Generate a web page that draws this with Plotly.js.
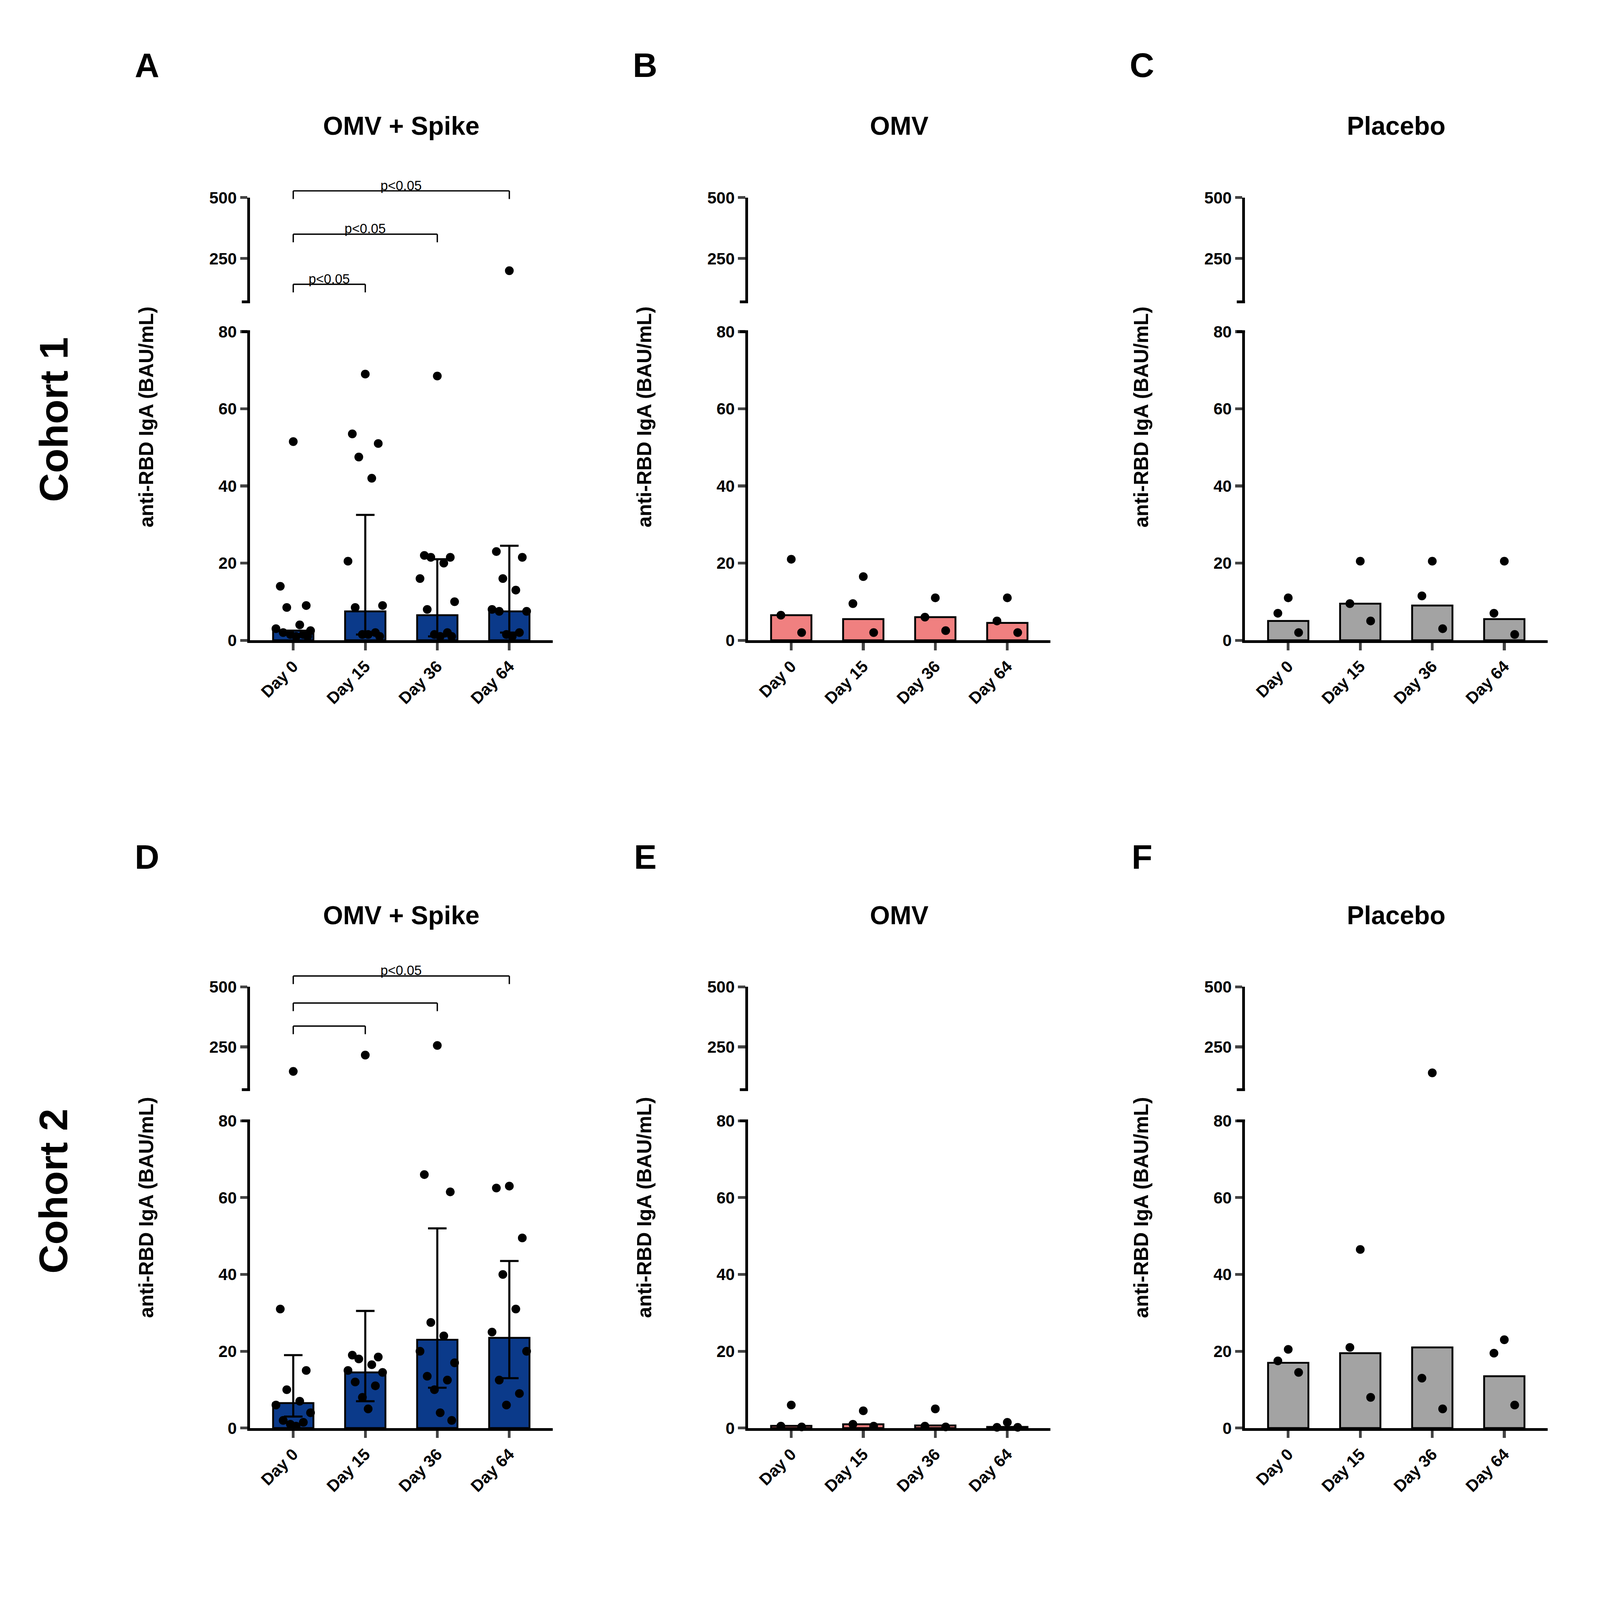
<!DOCTYPE html>
<html>
<head>
<meta charset="utf-8">
<script src="https://cdn.plot.ly/plotly-3.0.1.min.js"></script>
<style>html,body{margin:0;padding:0;background:#fff;overflow:hidden}</style>
</head>
<body>
<div id="plot"></div>
<script>
// categories and values
const days = ['Day 0', 'Day 15', 'Day 36', 'Day 64'];
const panelLetters = ['A', 'B', 'C', 'D', 'E', 'F'];
const panelTitles = ['OMV + Spike', 'OMV', 'Placebo', 'OMV + Spike', 'OMV', 'Placebo'];
const cohortLabels = ['Cohort 1', 'Cohort 2'];

const barsA = [2.5, 7.5, 6.5, 7.5];
const errUpA = [0, 25, 14.5, 17];
const errLoA = [0, 6, 5.5, 5.5];
const ptsA = [
  [51.5, 14, 9, 8.5, 4, 3, 2.5, 2, 1.5, 1.5, 1, 1],
  [69, 53.5, 51, 47.5, 42, 20.5, 9, 8.5, 2, 1.5, 1.5, 1],
  [68.5, 22, 21.5, 21.5, 20, 16, 10, 8, 2, 1.5, 1, 1],
  [200, 23, 21.5, 16, 13, 8, 7.5, 7.5, 2, 1.5, 1]
];
const barsB = [6.5, 5.5, 6, 4.5];
const ptsB = [[21, 6.5, 2], [16.5, 9.5, 2], [11, 6, 2.5], [11, 5, 2]];
const barsC = [5, 9.5, 9, 5.5];
const ptsC = [[11, 7, 2], [20.5, 9.5, 5], [20.5, 11.5, 3], [20.5, 7, 1.5]];

const barsD = [6.5, 14.5, 23, 23.5];
const errUpD = [12.5, 16, 29, 20];
const errLoD = [3.5, 7.5, 12.5, 10.5];
const ptsD = [
  [148, 31, 15, 10, 7, 6, 4, 2, 1.5, 1, 0.5],
  [216, 19, 18.5, 18, 16.5, 15, 14.5, 12, 11, 8, 5],
  [256, 66, 61.5, 27.5, 24, 20, 17, 13.5, 12.5, 10, 4, 2],
  [63, 62.5, 49.5, 40, 31, 25, 20, 12.5, 9, 6]
];
const barsE = [0.6, 1, 0.7, 0.3];
const ptsE = [[6, 0.5, 0.3], [4.5, 1, 0.5], [5, 0.5, 0.3], [1.5, 0.2, 0.2]];
const barsF = [17, 19.5, 21, 13.5];
const ptsF = [[20.5, 17.5, 14.5], [46.5, 21, 8], [142, 13, 5], [23, 19.5, 6]];

// reference measured in a 1555x1182 view; everything scales from it
const W = 1555, H = 1182;
const PW = window.innerWidth, PH = window.innerHeight;
const k = PW / W;
const px = X => X / W, py = Y => 1 - Y / H;

const colors = ['#0b3a8a', '#f08080', '#a3a3a3'];
const panels = [
  {bars: barsA, pts: ptsA, up: errUpA, lo: errLoA, c: colors[0]},
  {bars: barsB, pts: ptsB, c: colors[1]},
  {bars: barsC, pts: ptsC, c: colors[2]},
  {bars: barsD, pts: ptsD, up: errUpD, lo: errLoD, c: colors[0]},
  {bars: barsE, pts: ptsE, c: colors[1]},
  {bars: barsF, pts: ptsF, c: colors[2]}
];
const colX = [[243, 537], [727, 1021], [1210, 1504]];
const rowY = [{lo: [473, 245], up: [223, 146]}, {lo: [1055, 828], up: [805, 729]}];
const jitter = [0, -0.18, 0.18, -0.09, 0.09, -0.24, 0.24, -0.14, 0.14, -0.04, 0.04, 0.2];

const F = 'Liberation Sans, Arial, sans-serif';
const lw = 2.7 * k;
const tickFont = {size: 16 * k, family: F, weight: 'bold', color: 'black'};
const layout = {
  width: PW, height: PH, showlegend: false,
  paper_bgcolor: 'white', plot_bgcolor: 'rgba(0,0,0,0)',
  margin: {l: 0, r: 0, t: 0, b: 0},
  font: {family: F, color: 'black'},
  annotations: [], shapes: []
};
const traces = [];

panels.forEach((p, i) => {
  const r = Math.floor(i / 3), c = i % 3;
  const xn = i + 1, yl = i + 1, yu = i + 7;
  const xa = 'x' + (xn === 1 ? '' : xn), ya = 'y' + (yl === 1 ? '' : yl), yb = 'y' + yu;
  const dom = [px(colX[c][0]), px(colX[c][1])];
  layout['xaxis' + (xn === 1 ? '' : xn)] = {
    domain: dom, range: [-0.6, 3.6], anchor: ya, tickvals: [0, 1, 2, 3], ticktext: days,
    tickangle: -45, showline: true, linewidth: lw, linecolor: 'black', ticks: 'outside',
    ticklen: 7 * k, tickwidth: lw, showgrid: false, zeroline: false, tickfont: tickFont
  };
  layout['yaxis' + (yl === 1 ? '' : yl)] = {
    domain: [py(rowY[r].lo[0]), py(rowY[r].lo[1])], range: [0, 80], anchor: xa,
    tickvals: [0, 20, 40, 60, 80], showline: true, linewidth: lw, linecolor: 'black',
    ticks: 'outside', ticklen: 7 * k, tickwidth: lw, showgrid: false, zeroline: false,
    tickfont: tickFont
  };
  layout['yaxis' + yu] = {
    domain: [py(rowY[r].up[0]), py(rowY[r].up[1])], range: [72, 500], anchor: xa,
    tickvals: [250, 500], showline: true, linewidth: lw, linecolor: 'black',
    ticks: 'outside', ticklen: 7 * k, tickwidth: lw, showgrid: false, zeroline: false,
    tickfont: tickFont
  };
  // axis break marks
  [rowY[r].lo[1], rowY[r].up[0]].forEach(Y => layout.shapes.push({
    type: 'line', xref: 'paper', yref: 'paper', x0: px(colX[c][0] - 8), x1: px(colX[c][0]),
    y0: py(Y), y1: py(Y), line: {color: 'black', width: lw}
  }));

  const bar = {type: 'bar', x: [0, 1, 2, 3], y: p.bars, xaxis: xa, yaxis: ya, width: 0.56,
    marker: {color: p.c, line: {color: 'black', width: 1.8 * k}}};
  if (p.up) bar.error_y = {type: 'data', symmetric: false, array: p.up, arrayminus: p.lo,
    color: 'black', thickness: 2 * k, width: 9 * k};
  traces.push(bar);

  const lx = [], lyv = [], ux = [], uyv = [];
  p.pts.forEach((vals, kk) => vals.forEach((v, j) => {
    const x = kk + jitter[j % jitter.length] * (vals.length <= 3 ? 0.8 : 1);
    if (v > 80) { ux.push(x); uyv.push(v); } else { lx.push(x); lyv.push(v); }
  }));
  const mk = {color: 'black', size: 8.5 * k};
  traces.push({type: 'scatter', mode: 'markers', x: lx, y: lyv, xaxis: xa, yaxis: ya, marker: mk, cliponaxis: false});
  traces.push({type: 'scatter', mode: 'markers', x: ux, y: uyv, xaxis: xa, yaxis: yb, marker: mk, cliponaxis: false});

  const mid = (colX[c][0] + colX[c][1]) / 2;
  layout.annotations.push({text: panelTitles[i], xref: 'paper', yref: 'paper', x: px(mid), y: py(r === 0 ? 93 : 676),
    xanchor: 'center', yanchor: 'middle', showarrow: false, font: {size: 25 * k, family: F, weight: 'bold'}});
  layout.annotations.push({text: panelLetters[i], xref: 'paper', yref: 'paper',
    x: px(colX[c][0] - 100), y: py(r === 0 ? 48 : 633), xanchor: 'center', yanchor: 'middle',
    showarrow: false, font: {size: 33 * k, family: F, weight: 'bold'}});
  layout.annotations.push({text: 'anti-RBD IgA (BAU/mL)', xref: 'paper', yref: 'paper', textangle: -90,
    x: px(colX[c][0] - 101), y: py(r === 0 ? 308 : 892), xanchor: 'center', yanchor: 'middle',
    showarrow: false, font: {size: 19.5 * k, family: F, weight: 'bold'}});
});

// significance brackets (panels A and D)
const brackets = [
  {row: 0, to: 1, Y: 210, label: 'p<0.05'},
  {row: 0, to: 2, Y: 173, label: 'p<0.05'},
  {row: 0, to: 3, Y: 141, label: 'p<0.05'},
  {row: 1, to: 1, Y: 758, label: ''},
  {row: 1, to: 2, Y: 741, label: ''},
  {row: 1, to: 3, Y: 721, label: 'p<0.05'}
];
brackets.forEach(b => {
  const xa = b.row === 0 ? 'x' : 'x4';
  const yT = py(b.Y), yB = py(b.Y + 6);
  const ln = {color: 'black', width: 1.3 * k};
  layout.shapes.push({type: 'line', xref: xa, yref: 'paper', x0: 0, x1: b.to, y0: yT, y1: yT, line: ln});
  layout.shapes.push({type: 'line', xref: xa, yref: 'paper', x0: 0, x1: 0, y0: yT, y1: yB, line: ln});
  layout.shapes.push({type: 'line', xref: xa, yref: 'paper', x0: b.to, x1: b.to, y0: yT, y1: yB, line: ln});
  if (b.label) layout.annotations.push({text: b.label, xref: xa, yref: 'paper', x: b.to / 2,
    y: py(b.Y + 2), xanchor: 'center', yanchor: 'bottom', showarrow: false, font: {size: 13 * k, family: F}});
});

cohortLabels.forEach((t, r) => layout.annotations.push({text: t, xref: 'paper', yref: 'paper', textangle: -90,
  x: px(52), y: py(r === 0 ? 310 : 880), xanchor: 'center', yanchor: 'middle',
  showarrow: false, font: {size: 39 * k, family: F, weight: 'bold'}}));

Plotly.newPlot('plot', traces, layout, {displayModeBar: false, staticPlot: true});
</script>
</body>
</html>
